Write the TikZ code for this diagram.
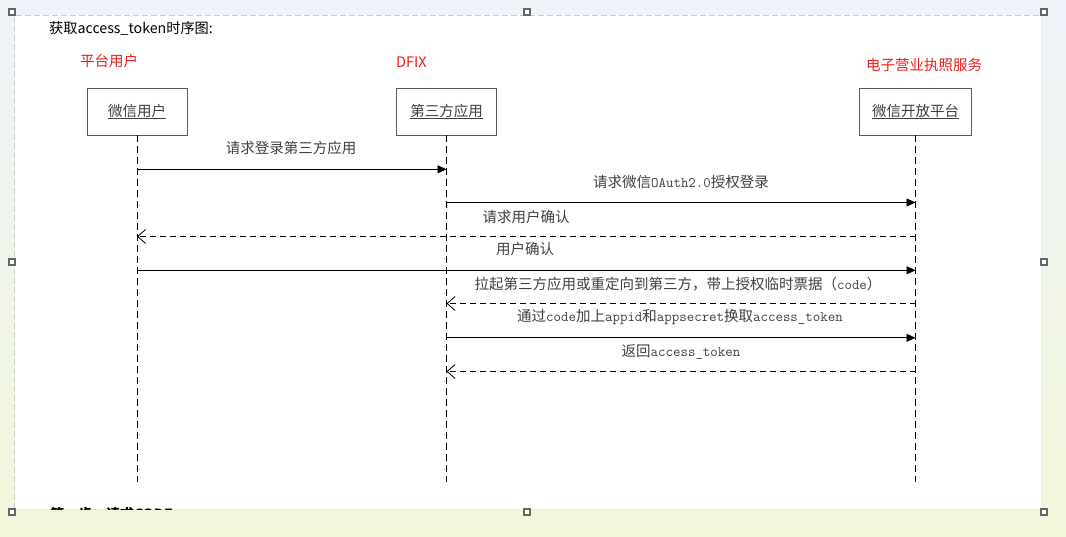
\documentclass[tikz,border=0pt]{standalone}
\usepackage{fontspec}
\newfontfamily\cjk{Noto Sans CJK SC}
\usetikzlibrary{arrows.meta}
\newcommand\mlat[1]{{\ttfamily #1}}
\definecolor{bgtop}{HTML}{EDF3F9}
\definecolor{bgbot}{HTML}{F2F7DA}
\definecolor{redlab}{HTML}{F21C1C}
\definecolor{txtgray}{HTML}{404040}
\tikzset{
  actor/.style={draw=black!65, line width=0.9pt, fill=white, minimum width=#1, minimum height=47, inner sep=0, text=txtgray, font=\cjk\fontsize{14.5}{16}\selectfont},
  lifeline/.style={draw=black, line width=0.9pt, dash pattern=on 7pt off 4pt},
  call/.style={draw=black, line width=0.8pt, -{Triangle[length=9pt,width=8pt]}},
  reply/.style={draw=black, line width=0.8pt, dash pattern=on 6pt off 4pt, -{Straight Barb[length=8pt,width=14pt,line width=0.8pt]}},
  msglab/.style={inner sep=0, text=txtgray, font=\cjk\fontsize{14.5}{16}\selectfont},
  rolelab/.style={inner sep=0, text=redlab, font=\cjk\fontsize{14.5}{16}\selectfont},
  handle/.style={draw=black!60, fill=white, line width=1.3pt, minimum size=6pt, inner sep=0}
}
\begin{document}
\begin{tikzpicture}[x=1pt,y=-1pt]
\useasboundingbox (0,0) rectangle (1066,537);
% background and page
\shade[top color=bgtop, bottom color=bgbot] (0,0) rectangle (1066,537);
\fill[white] (14.5,15) rectangle (1041.5,509);
\draw[black!20, line width=0.8pt, dash pattern=on 6pt off 3pt] (14.5,509) -- (14.5,15) -- (1041.5,15);
\draw[black!8, line width=0.8pt] (1041.5,15) -- (1041.5,509) -- (14.5,509);
% partially visible heading at the bottom
\begin{scope}
\clip (14.5,500) rectangle (1041.5,509);
\node[anchor=base west, inner sep=0, font=\cjk\bfseries\fontsize{14}{16}\selectfont] (next) at (50,519.5) {第一步：请求CODE};
\end{scope}
% title
\node[inner sep=0, font=\cjk\fontsize{14.2}{16}\selectfont, anchor=west] (title) at (49,28) {获取access\_token时序图:};
% role labels
\node[rolelab] (r1) at (109,61) {平台用户};
\node[rolelab] (r2) at (411.5,62) {DFIX};
\node[rolelab] (r3) at (924,65) {电子营业执照服务};
% actors
\node[actor=100] (u) at (137,111.5) {\underline{微信用户}};
\node[actor=100] (t) at (446.5,111.5) {\underline{第三方应用}};
\node[actor=112] (w) at (915.5,111.5) {\underline{微信开放平台}};
% lifelines
\coordinate (ue) at (137,482);
\coordinate (te) at (446.5,482);
\coordinate (we) at (915.5,482);
\draw[lifeline] (u.south) -- (ue);
\draw[lifeline] (t.south) -- (te);
\draw[lifeline] (w.south) -- (we);
% message rows
\coordinate (y1) at (0,169.3);
\coordinate (y2) at (0,202.5);
\coordinate (y3) at (0,236.5);
\coordinate (y4) at (0,270.3);
\coordinate (y5) at (0,303.5);
\coordinate (y6) at (0,337.8);
\coordinate (y7) at (0,371.5);
\draw[call] (u |- y1) -- (t |- y1);
\draw[call] (t |- y2) -- (w |- y2);
\draw[reply] (w |- y3) -- (u |- y3);
\draw[call] (u |- y4) -- (w |- y4);
\draw[reply] (w |- y5) -- (t |- y5);
\draw[call] (t |- y6) -- (w |- y6);
\draw[reply] (w |- y7) -- (t |- y7);
% message labels
\node[msglab] (l1) at (291,148.3) {请求登录第三方应用};
\node[msglab] (l2) at (681,182.5) {请求微信\mlat{OAuth2.0}授权登录};
\node[msglab] (l3) at (526,216.5) {请求用户确认};
\node[msglab] (l4) at (525,249) {用户确认};
\node[msglab] (l5) at (678,284) {拉起第三方应用或重定向到第三方，带上授权临时票据（\mlat{code}）};
\node[msglab] (l6) at (680,317.5) {通过\mlat{code}加上\mlat{appid}和\mlat{appsecret}换取\mlat{access\_token}};
\node[msglab] (l7) at (681,351.5) {返回\mlat{access\_token}};
% selection handles
\node[handle] (h1) at (12,12) {};
\node[handle] (h2) at (527,12) {};
\node[handle] (h3) at (1044,12) {};
\node[handle] (h4) at (12,262) {};
\node[handle] (h5) at (1044,262) {};
\node[handle] (h6) at (12,512) {};
\node[handle] (h7) at (527,512) {};
\node[handle] (h8) at (1044,512) {};
\end{tikzpicture}
\end{document}
